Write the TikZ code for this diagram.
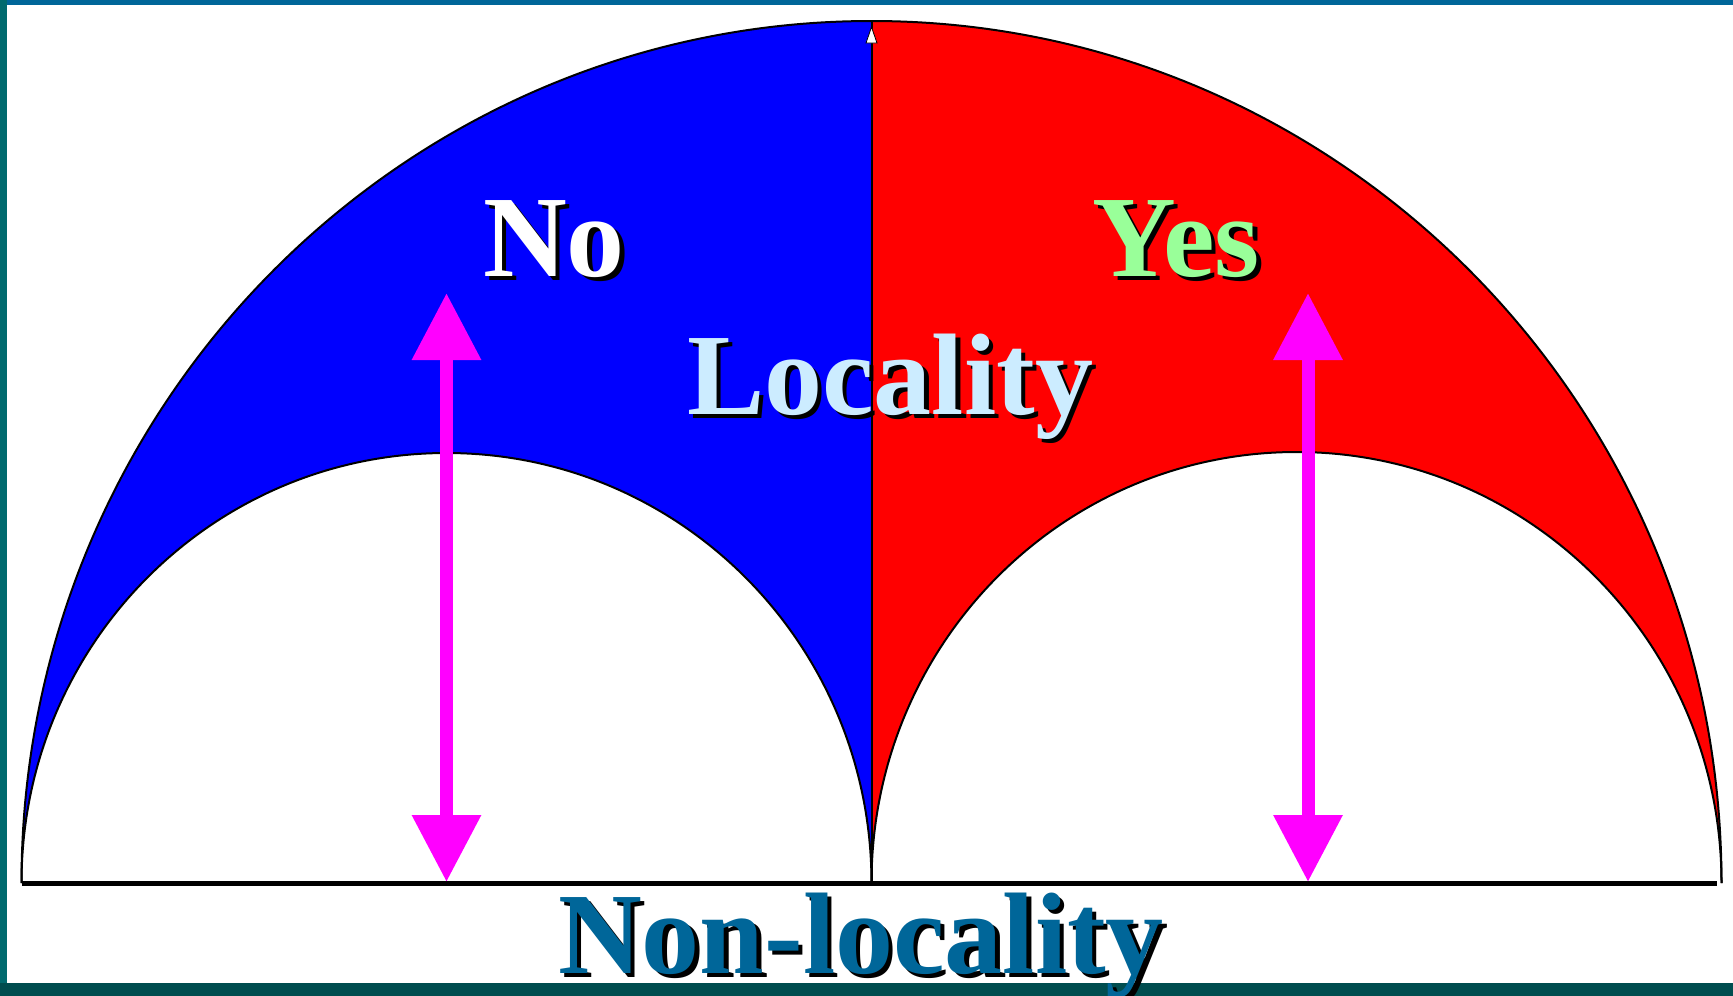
\documentclass[tikz,border=0pt]{standalone}
\usepackage{fontspec}
\setmainfont{Liberation Serif}
\usetikzlibrary{arrows.meta}
\definecolor{topbar}{RGB}{0,102,153}
\definecolor{leftbar}{RGB}{0,106,110}
\definecolor{botbar}{RGB}{0,77,79}
\definecolor{lobe}{RGB}{0,0,255}
\definecolor{redlobe}{RGB}{255,0,0}
\definecolor{magenta2}{RGB}{255,0,255}
\definecolor{localblue}{RGB}{204,236,255}
\definecolor{yesgreen}{RGB}{153,255,153}
\definecolor{nonloc}{RGB}{0,102,153}
\tikzset{
  bigtext/.style={inner sep=0pt, anchor=base, font=\fontsize{116}{116}\selectfont\bfseries},
  shadowtext/.style={bigtext, text=black},
  magarrow/.style={draw=magenta2, line width=13pt,
    arrows={Triangle[width=66pt,length=67pt,fill=magenta2]-Triangle[width=66pt,length=67pt,fill=magenta2]}},
  outline/.style={draw=black, line width=2pt},
}
\begin{document}
\begin{tikzpicture}[x=1pt,y=1pt]
\useasboundingbox (0,0) rectangle (1733,-996);
\fill[white] (0,0) rectangle (1733,-996);
% frame
\fill[topbar] (0,0) rectangle (1733,-5);
\fill[leftbar] (0,0) rectangle (7,-996);
\fill[botbar] (0,-983) rectangle (1733,-996);
% blue lobe
\fill[lobe] (21.5,-883) arc[start angle=180,end angle=90,x radius=850,y radius=862]
  -- (871.5,-883) arc[start angle=0,end angle=180,x radius=425,y radius=430] -- cycle;
% red lobe
\fill[redlobe] (871.5,-21) arc[start angle=90,end angle=0,x radius=850,y radius=862]
  arc[start angle=0,end angle=180,x radius=425,y radius=431] -- cycle;
% outlines
\draw[outline] (21.5,-883) arc[start angle=180,end angle=0,x radius=850,y radius=862];
\draw[outline] (21.5,-883) arc[start angle=180,end angle=0,x radius=425,y radius=430];
\draw[outline] (871.5,-883) arc[start angle=180,end angle=0,x radius=425,y radius=431];
\draw[outline] (871.5,-21) -- (871.5,-883);
\fill[white,draw=black,line width=0.8pt] (866,-43) -- (877,-43) -- (871.5,-27) -- cycle;
% baseline
\coordinate (bl) at (22,-883);
\coordinate (br) at (1717,-883);
\draw[black, line width=5pt] (bl) -- (br);
% arrows
\coordinate (a1top) at (446.5,-293);
\coordinate (a1bot) at (446.5,-882);
\coordinate (a2top) at (1308,-293);
\coordinate (a2bot) at (1308,-882);
\draw[magarrow] (a1bot) -- (a1top);
\draw[magarrow] (a2bot) -- (a2top);
% texts with shadows
\node[shadowtext] (nosh) at (558.5,-280.5) {No};
\node[bigtext, text=white] (no) at (554,-276) {No};
\node[shadowtext] (yessh) at (1180.5,-280.5) {Yes};
\node[bigtext, text=yesgreen] (yes) at (1176,-276) {Yes};
\node[shadowtext] (locsh) at (894.5,-418.5) {Locality};
\node[bigtext, text=localblue] (loc) at (890,-414) {Locality};
\node[shadowtext] (nlsh) at (865.5,-977.5) {Non-locality};
\node[bigtext, text=nonloc] (nl) at (861,-973) {Non-locality};
\end{tikzpicture}
\end{document}
